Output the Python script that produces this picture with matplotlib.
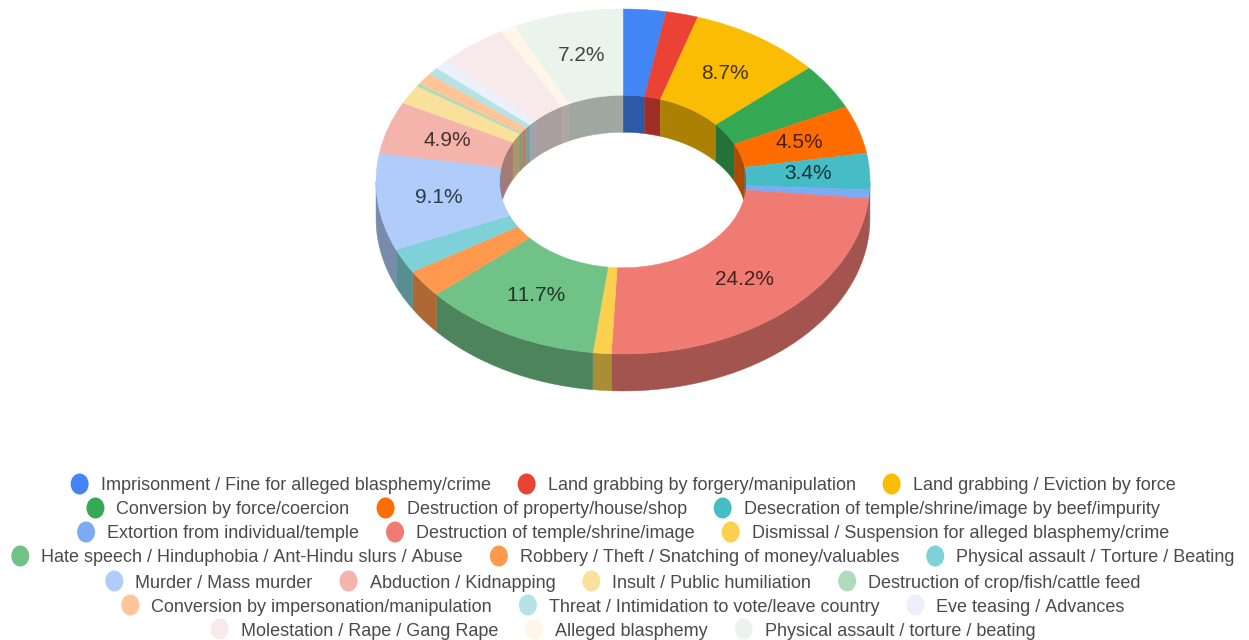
import numpy as np
import matplotlib
matplotlib.use("Agg")
import matplotlib.pyplot as plt
from matplotlib.patches import Ellipse
from matplotlib.colors import to_rgb

plt.rcParams["text.kerning_factor"] = 6

categories = [
    "Imprisonment / Fine for alleged blasphemy/crime",
    "Land grabbing by forgery/manipulation",
    "Land grabbing / Eviction by force",
    "Conversion by force/coercion",
    "Destruction of property/house/shop",
    "Desecration of temple/shrine/image by beef/impurity",
    "Extortion from individual/temple",
    "Destruction of temple/shrine/image",
    "Dismissal / Suspension for alleged blasphemy/crime",
    "Hate speech / Hinduphobia / Ant-Hindu slurs / Abuse",
    "Robbery / Theft / Snatching of money/valuables",
    "Physical assault / Torture / Beating",
    "Murder / Mass murder",
    "Abduction / Kidnapping",
    "Insult / Public humiliation",
    "Destruction of crop/fish/cattle feed",
    "Conversion by impersonation/manipulation",
    "Threat / Intimidation to vote/leave country",
    "Eve teasing / Advances",
    "Molestation / Rape / Gang Rape",
    "Alleged blasphemy",
    "Physical assault / torture / beating",
]
values = [2.8, 2.1, 8.7, 4.3, 4.5, 3.4, 0.8, 24.2, 1.2, 11.7, 2.6,
          2.3, 9.1, 4.9, 1.8, 0.3, 1.1, 0.7, 1.0, 4.4, 1.0, 7.2]
colors = ["#4285f4", "#ea4335", "#fbbc04", "#34a853", "#ff6d01", "#46bdc6",
          "#7baaf7", "#f07b72", "#fcd04f", "#71c287", "#ff994d", "#7ed1d7",
          "#b0ccfb", "#f4b3ab", "#f9e19b", "#aedcba", "#ffc599", "#b5e3e5",
          "#ecf0fb", "#f8eaea", "#fff6e8", "#ebf4ec"]
labelled = ["8.7%", "4.5%", "3.4%", "24.2%", "11.7%", "9.1%", "4.9%", "7.2%"]
legend_rows = [3, 3, 3, 3, 4, 3, 3]

W, H = 1249, 640
CX, CY, RX, RY = 623.0, 181.5, 247.0, 172.5
DEPTH = 37.0 / RY
HOLE = 0.5
SHADE = 0.68

fig = plt.figure(figsize=(W / 100, H / 100), dpi=100, facecolor="white")
ax = fig.add_axes([0, 0, 1, 1])

wedges, _ = ax.pie(values, colors=colors, startangle=90, counterclock=False,
                   radius=1, wedgeprops=dict(width=1 - HOLE, linewidth=0))
ax.set_aspect("auto")
ax.set_xlim((0 - CX) / RX, (W - CX) / RX)
ax.set_ylim((CY - H) / RY, CY / RY)
ax.axis("off")
for w in wedges:
    w.set_zorder(3)
    w.set_edgecolor(w.get_facecolor())
    w.set_linewidth(0.3)

frac = np.array(values) / np.sum(values)
edges = np.concatenate([[0], np.cumsum(frac)]) * 360


def wall(r, t0, t1, color):
    if t1 <= t0:
        return
    t = np.radians(np.linspace(t0, t1, 40))
    x, y = r * np.sin(t), r * np.cos(t)
    ax.fill(np.r_[x, x[::-1]], np.r_[y, y[::-1] - DEPTH], color=color,
            lw=0.3, zorder=2)


for i, c in enumerate(colors):
    shade = tuple(v * SHADE for v in to_rgb(c))
    a, b = edges[i], edges[i + 1]
    wall(1.0, max(a, 90), min(b, 270), shade)
    wall(HOLE, a, min(b, 90), shade)
    wall(HOLE, max(a, 270), b, shade)

for i, (v, c) in enumerate(zip(values, colors)):
    txt = f"{v:.1f}%"
    if txt in labelled and v > 3:
        t = np.radians((edges[i] + edges[i + 1]) / 2)
        ax.text(0.75 * np.sin(t), 0.75 * np.cos(t), txt, ha="center", va="center",
                family="Liberation Sans", fontsize=15, color="#000000",
                alpha=0.72, zorder=5)

# legend in pixel coordinates
lx = fig.add_axes([0, 0, 1, 1], facecolor="none")
lx.set_xlim(0, W)
lx.set_ylim(H, 0)
lx.axis("off")
fig.canvas.draw()
rend = fig.canvas.get_renderer()
MARK_TO_TEXT, TEXT_TO_MARK = 21, 36
row_y = [484, 508, 532, 556, 581, 605, 629]
k = 0
for n, y in zip(legend_rows, row_y):
    items = []
    for j in range(k, k + n):
        t = lx.text(0, y, categories[j], ha="left", va="center_baseline",
                    family="Liberation Sans", fontsize=13.0, color="#4a4a4a")
        items.append((t, t.get_window_extent(rend).width, colors[j]))
    total = sum(w for _, w, _ in items) + n * MARK_TO_TEXT + (n - 1) * TEXT_TO_MARK + 9
    x = 623 - total / 2 + 9
    for t, w, c in items:
        lx.add_patch(Ellipse((x, y), 18, 21, facecolor=c, edgecolor="none"))
        t.set_x(x + MARK_TO_TEXT)
        x += MARK_TO_TEXT + w + TEXT_TO_MARK
    k += n

fig.savefig("out.png", dpi=100, facecolor="white")
